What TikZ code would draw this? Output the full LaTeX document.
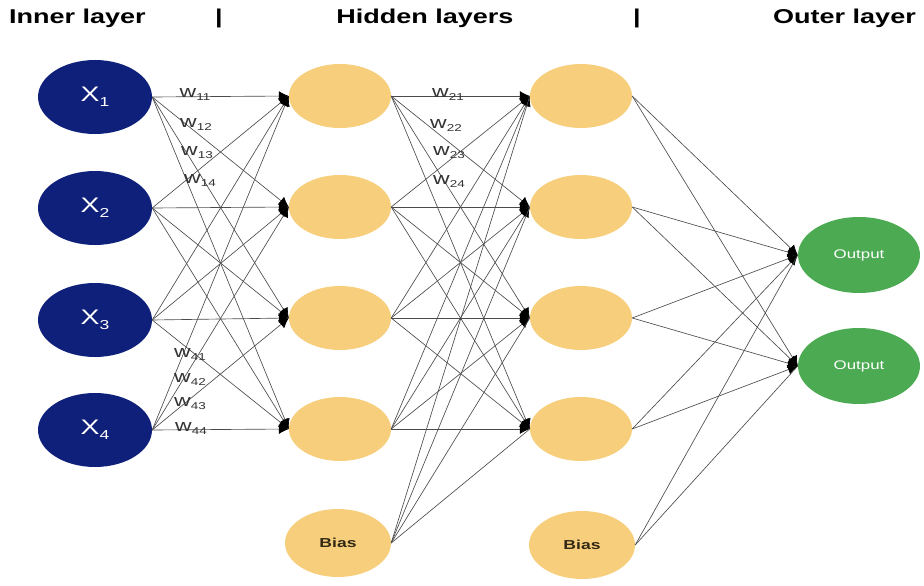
\documentclass[tikz,border=0pt]{standalone}
\usepackage{fontspec}
\setmainfont{Liberation Sans}[FakeStretch=1.35]
\usepackage{tikz}
\usetikzlibrary{shapes.geometric}
\usetikzlibrary{arrows.meta}

\definecolor{inblue}{RGB}{14,32,122}
\definecolor{hidyellow}{RGB}{247,207,124}
\definecolor{outgreen}{RGB}{76,170,82}
\definecolor{wiregray}{RGB}{75,75,75}
\definecolor{biastext}{RGB}{50,40,20}

\tikzset{
  innode/.style={ellipse, fill=inblue, minimum width=114pt, minimum height=74pt, inner sep=0pt, text=white, font=\fontsize{21}{21}\selectfont},
  hidnode/.style={ellipse, fill=hidyellow, minimum width=102pt, minimum height=64pt, inner sep=0pt},
  biasnode/.style={ellipse, fill=hidyellow, minimum width=106pt, minimum height=68pt, inner sep=0pt, text=biastext, font=\fontsize{13}{13}\selectfont\bfseries},
  outnode/.style={ellipse, fill=outgreen, minimum width=122pt, minimum height=76pt, inner sep=0pt, text=white, font=\fontsize{12.5}{12.5}\selectfont},
  wire/.style={draw=wiregray, line width=0.65pt, -{Latex[length=10pt, width=10pt, black]}},
  plainwire/.style={draw=wiregray, line width=0.65pt},
  title/.style={font=\fontsize{20}{20}\selectfont\bfseries, inner sep=0pt},
  wlabel/.style={font=\fontsize{17}{17}\selectfont, text=black!80, inner sep=0pt}
}

\newcommand{\xsub}[1]{X\raisebox{-5pt}{\fontsize{13}{13}\selectfont #1}}
\newcommand{\wsub}[1]{w\raisebox{-3pt}{\fontsize{10}{10}\selectfont #1}}

\begin{document}
\begin{tikzpicture}[x=1pt, y=-1pt]
    \useasboundingbox (0,0) rectangle (924,586);
    % titles
    \node [title, anchor=west] (tin) at (9, 18) {Inner layer};
    \node [title] (bar1) at (219, 18) {|};
    \node [title] (thid) at (425, 18) {Hidden layers};
    \node [title] (bar2) at (637, 18) {|};
    \node [title, anchor=east] (tout) at (916, 18) {Outer layer};
    % inner layer
    \node [innode] (in1) at (95, 97) {\xsub{1}};
    \node [innode] (in2) at (95, 208) {\xsub{2}};
    \node [innode] (in3) at (95, 320) {\xsub{3}};
    \node [innode] (in4) at (95, 430) {\xsub{4}};
    % first hidden layer
    \node [hidnode] (ha1) at (340, 96) {};
    \node [hidnode] (ha2) at (340, 207) {};
    \node [hidnode] (ha3) at (340, 318) {};
    \node [hidnode] (ha4) at (340, 429) {};
    \node [biasnode] (biasa) at (338, 543) {Bias};
    % second hidden layer
    \node [hidnode] (hb1) at (581, 96) {};
    \node [hidnode] (hb2) at (581, 207) {};
    \node [hidnode] (hb3) at (581, 318) {};
    \node [hidnode] (hb4) at (581, 429) {};
    \node [biasnode] (biasb) at (582, 545) {Bias};
    % outer layer
    \node [outnode] (out1) at (859, 255) {Output};
    \node [outnode] (out2) at (859, 366) {Output};
    % connections
    \foreach \i in {1,...,4}
      \foreach \j in {1,...,4} {
        \draw [wire] (in\i.east) -- (ha\j.west);
        \draw [wire] (ha\i.east) -- (hb\j.west);
      }
    \foreach \j in {1,...,4}
      \draw [plainwire] (biasa.east) -- (hb\j.west);
    \foreach \i in {1,...,4}
      \foreach \k in {1,2}
        \draw [wire] (hb\i.east) -- (out\k.west);
    \foreach \k in {1,2}
      \draw [plainwire] (biasb.east) -- (out\k.west);
    % weights
    \node [wlabel] (w11) at (195, 95) {\wsub{11}};
    \node [wlabel] (w12) at (196, 125) {\wsub{12}};
    \node [wlabel] (w13) at (197, 153) {\wsub{13}};
    \node [wlabel] (w14) at (200, 181) {\wsub{14}};
    \node [wlabel] (w41) at (190, 355) {\wsub{41}};
    \node [wlabel] (w42) at (190, 380) {\wsub{42}};
    \node [wlabel] (w43) at (190, 404) {\wsub{43}};
    \node [wlabel] (w44) at (191, 429) {\wsub{44}};
    \node [wlabel] (w21) at (448, 95) {\wsub{21}};
    \node [wlabel] (w22) at (446, 126) {\wsub{22}};
    \node [wlabel] (w23) at (449, 153) {\wsub{23}};
    \node [wlabel] (w24) at (449, 182) {\wsub{24}};
\end{tikzpicture}
\end{document}
